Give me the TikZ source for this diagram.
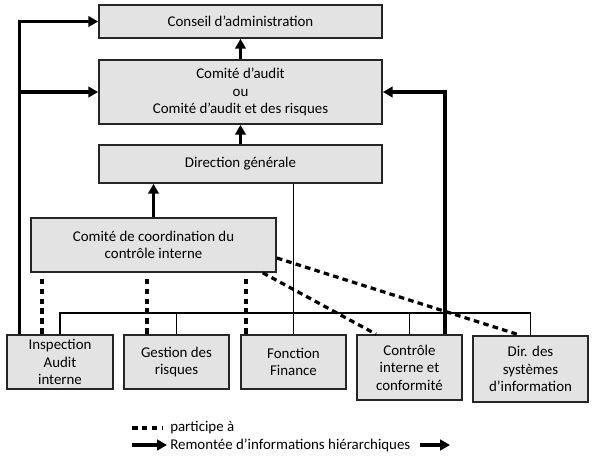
\documentclass[tikz,border=0pt]{standalone}
\usepackage{fontspec}
\setmainfont{Carlito}
\usepackage{tikz}
\usetikzlibrary{arrows.meta, calc}

\begin{document}
\begin{tikzpicture}[
    x=0.025cm, y=-0.025cm,
    every node/.style={font=\fontsize{10.6}{12.4}\selectfont},
    unit/.style={rectangle, draw=black!85, fill=black!11, line width=1.2pt,
                 align=center, inner sep=2pt, minimum width=#1},
    up/.style={-{Triangle[length=7pt, width=7.5pt]}, line width=2.2pt, draw=black},
    link/.style={line width=0.9pt, draw=black},
    part/.style={line width=2.3pt, draw=black, dash pattern=on 4pt off 3pt}
]
\useasboundingbox (0,0) rectangle (600,470);

% === Top: governance ===
\node[unit=283*0.025cm, minimum height=33*0.025cm] (conseil) at (240.5, 21.5)
    {Conseil d’administration};
\node[unit=283*0.025cm, minimum height=64*0.025cm] (audit) at (240.5, 92)
    {Comité d’audit\\ou\\Comité d’audit et des risques};
\node[unit=283*0.025cm, minimum height=38*0.025cm] (dg) at (240.5, 164)
    {Direction générale};

\draw[up] (dg) -- (audit);
\draw[up] (audit) -- (conseil);

% === Middle: coordination ===
\node[unit=245*0.025cm, minimum height=54*0.025cm] (coord) at (153.5, 245)
    {Comité de coordination du\\contrôle interne};

\draw[up] (coord.north) -- (coord.north |- dg.south);

% === Bottom: functions ===
\node[unit=106*0.025cm, minimum height=54*0.025cm] (insp) at (60, 362)
    {Inspection\\Audit\\interne};
\node[unit=105*0.025cm, minimum height=54*0.025cm] (gest) at (176.5, 362)
    {Gestion des\\risques};
\node[unit=105*0.025cm, minimum height=54*0.025cm] (fin) at (293.5, 362)
    {Fonction\\Finance};
\node[unit=105*0.025cm, minimum height=65*0.025cm] (ctrl) at (409.5, 367.5)
    {Contrôle\\interne et\\conformité};
\node[unit=115*0.025cm, minimum height=66*0.025cm] (dsi) at (530.5, 369)
    {Dir. des\\systèmes\\d’information};

% hierarchy bus
\coordinate (bus) at (0, 313);
\draw[link] (insp.north) -- (insp.north |- bus) -- (dsi.north |- bus) -- (dsi.north);
\draw[link] (gest.north) -- (gest.north |- bus);
\draw[link] (ctrl.north) -- (ctrl.north |- bus);
\draw[link] (dg.south -| fin.north) -- (fin.north);

% reporting lines
\coordinate (lft) at ($(insp.north west)+(13,0)$);
\coordinate (rgt) at ($(ctrl.north)+(35.5,0)$);
\draw[up] (lft) |- (conseil.west);
\draw[up] (lft |- audit.west) -- (audit.west);
\draw[up] (rgt) |- (audit.east);

% participation
\draw[part] ($(coord.south -| insp.north)+(-18,6)$) -- ($(insp.north)+(-18,0)$);
\draw[part] ($(coord.south -| gest.north)+(-29.5,6)$) -- ($(gest.north)+(-29.5,0)$);
\draw[part] ($(coord.south -| fin.north)+(-47.5,6)$) -- ($(fin.north)+(-47.5,0)$);
\draw[part] ($(coord.east)+(0,13)$) -- ($(dsi.north)+(-10.5,0)$);
\draw[part] ($(coord.south east)+(-14,0)$) -- ($(ctrl.north)+(-33.5,0)$);

% === Legend ===
\coordinate (l1a) at (132, 428);
\coordinate (l1b) at (162, 428);
\coordinate (l2a) at (132, 445);
\coordinate (l2b) at (167, 445);
\node[anchor=west, inner sep=0pt] (lpart) at (170, 428) {participe à};
\node[anchor=west, inner sep=0pt] (lrep) at (170, 445) {Remontée d’informations hiérarchiques};
\coordinate (l3a) at (420, 445);
\coordinate (l3b) at (450, 445);
\draw[part] (l1a) -- (l1b);
\draw[up] (l2a) -- (l2b);
\draw[up] (l3a) -- (l3b);

\end{tikzpicture}
\end{document}
